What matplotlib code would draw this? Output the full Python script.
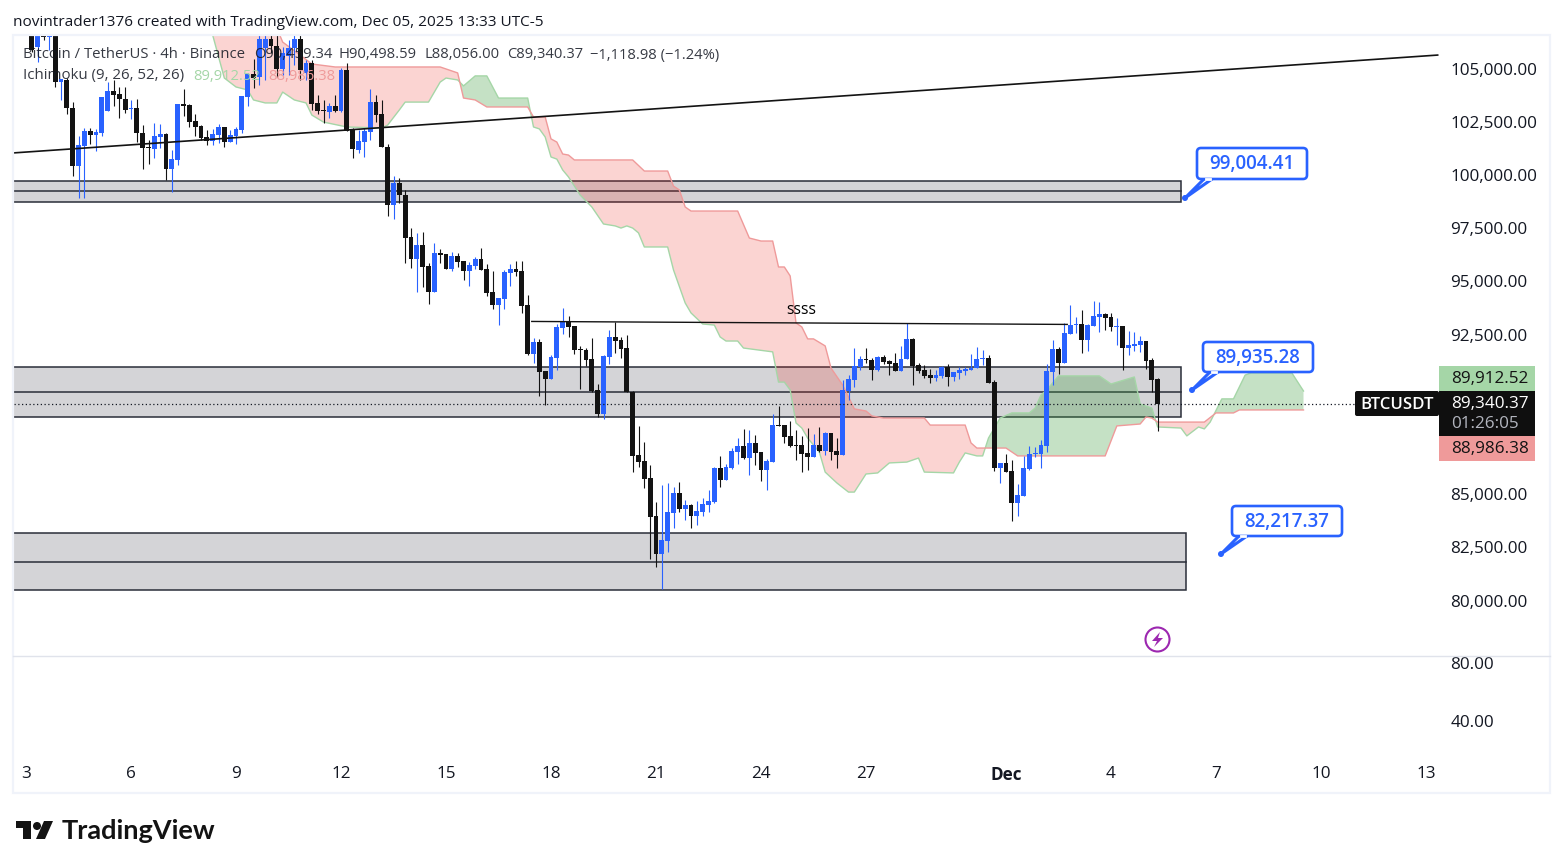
import matplotlib
matplotlib.use('Agg')
import matplotlib.pyplot as plt
import matplotlib.transforms as mtrans
import numpy as np
from matplotlib.patches import Rectangle, FancyBboxPatch, Polygon, Circle

plt.rcParams['font.family'] = ['Open Sans', 'DejaVu Sans']

W, H = 1563, 868

# candles, 4h bars, bar 0 = Nov 3 00:00
first_bar = 1
opens = [107000,105970,106530,106440,106680,104320,104420,103100,100380,101320,
102020,101830,101930,102960,103900,103760,103530,103050,103100,101930,
101270,101170,101740,101880,100240,100660,103290,103240,102490,102260,
101740,101550,101830,102210,101500,101790,102070,103620,104700,104560,
105920,106350,106020,104940,105550,105920,106350,104750,105220,103340,
103010,102920,103200,102960,104890,102070,101130,101500,101970,103380,
102820,101270,98540,99580,99010,97040,96000,96660,95680,94450,
96290,96240,95540,96150,95910,95440,95680,96000,95540,94450,
93840,94120,95350,95540,95440,93840,91540,92100,90740,90370,
91350,92760,93090,92860,91780,91730,91310,89850,88720,91400,
92340,92200,91820,89750,86790,86510,85710,83930,82140,82750,
84070,85010,84260,84440,83930,84120,84440,84580,86180,85620,
86180,86930,87220,86650,87360,86930,86090,86460,88200,88200,
87690,87260,87260,86890,86700,87260,86980,87830,86980,86790,
89800,90320,90930,91310,91260,90790,91400,91210,91120,90740,
91310,92250,91020,90790,90550,90410,90510,90930,90460,90650,
90740,90790,90880,91310,91350,90220,86180,86420,86040,84540,
84870,86140,86840,86840,87220,90690,91780,91120,92480,92900,
92950,92200,92860,93280,93420,93280,92810,92860,91820,91920,
91960,92150,91260,90370]
highs = [107240,107000,106770,106680,106860,104460,104510,103380,101790,102160,
102160,102120,103620,104320,104420,104090,104090,103480,103530,102300,
101600,102400,102350,101930,101130,103290,103990,103290,102820,102300,
102070,102120,102350,102210,102070,102210,103670,104750,105410,106580,
106530,106530,106530,105970,106300,106580,106530,105360,105360,103710,
103480,103340,103710,104980,105220,102160,102070,102160,103990,103710,
103480,101410,99910,99810,99250,97460,97230,97280,95820,96760,
96480,96240,96330,96290,95910,95860,96100,96520,95770,95440,
94170,95490,95770,95910,95910,94310,92290,92250,90740,91490,
92950,93700,93330,92860,91920,91820,92290,90130,91490,92670,
93040,92340,92430,89800,88160,87410,86320,84590,85380,85480,
85290,85520,84680,84490,84630,84770,85150,86230,86750,86370,
87120,87590,88020,87970,87730,86930,86610,88720,89100,88200,
88390,87970,87690,88060,87780,88110,87880,87830,87590,90320,
90550,91820,91450,91820,91350,91450,91490,91260,91590,91920,
93000,92290,91120,91020,90840,90790,90980,91070,90690,90930,
90930,91540,91870,91730,91490,90320,86420,86840,86560,85430,
86750,87220,87170,87500,91070,92200,91870,93000,93840,93280,
93610,92950,94030,93990,93470,93470,93230,92860,92620,92570,
92390,92150,91350,90400]
lows = [105740,105260,106300,105830,104090,103480,102820,99910,98870,98870,
101410,101080,101790,102960,103200,102630,102870,102580,101500,100240,
100470,100750,101220,99720,99150,100420,102730,102210,101790,101600,
101360,101360,101460,101270,101500,101410,101930,103200,104040,104180,
104420,105690,104560,104650,104650,105120,104420,104420,103010,102820,
102400,102630,102920,102920,102020,100750,100990,100800,101600,102440,
101270,98030,97880,98640,95820,95580,94450,94690,93890,94450,
95820,95540,95440,95630,95020,94740,95540,95490,94270,93660,
92900,93660,94740,95210,93470,91490,91120,89570,89140,90370,
90790,92480,92340,91540,89900,90980,89750,88580,88490,91070,
91590,91350,89750,86000,86230,85240,81900,81530,80500,82230,
83360,84110,83740,83360,83500,83930,84110,84540,85290,85620,
86140,86370,86610,85850,86320,85570,85150,86460,88160,87360,
87170,86560,86000,86090,86700,86930,86790,86560,86180,86790,
89380,90000,90790,91120,90320,90740,91070,90550,90740,90740,
91310,90080,90650,90410,90180,90270,90410,90040,90270,90370,
90550,90790,90880,91020,90180,86040,85480,86000,83690,83930,
84870,86090,86700,86180,86940,90080,90600,91120,92480,92530,
91590,91680,92860,92570,92670,92620,91960,90790,91490,91680,
91640,90830,89750,87920]
closes = [105830,106770,106440,106530,104320,104460,103100,100380,101360,102020,
101830,101970,103620,103900,103710,103530,103010,103100,101930,101220,
101220,101790,101880,100240,100710,103290,103200,102440,102210,101690,
101550,101880,102210,101500,101830,102120,103670,104700,104510,106350,
106350,106020,104940,105690,105920,106350,104890,105220,103290,102960,
102960,103200,102960,104890,102020,101170,101550,102020,103380,102770,
101270,98540,99580,99010,96990,96000,96660,95630,94450,96290,
96190,95540,96150,95860,95440,95720,96000,95490,94410,93840,
94170,95390,95540,95390,93800,91540,92100,90690,90370,91400,
92810,93090,92810,91730,91730,91260,89800,88720,91450,92340,
92150,91780,89750,86750,86460,85660,83880,82140,82800,84110,
85010,84260,84440,83930,84160,84490,84630,86180,85620,86230,
86980,87220,86650,87360,86890,86090,86510,88200,88160,87640,
87220,87220,86840,86700,87260,86980,87830,86930,86790,89850,
90370,90980,91310,91260,90790,91400,91160,91070,90740,91310,
92250,90980,90740,90510,90410,90550,90930,90460,90690,90790,
90840,90880,91310,91350,90180,86180,86420,86000,84540,84910,
86180,86840,86890,87260,90740,91780,91120,92530,92900,92950,
92200,92900,93330,93420,93230,92810,92860,91820,91960,92010,
92150,91210,90320,89200]

# ichimoku cloud edges, read at the bars where they bend
span_a_bars = [31,32,34,36,38,39,41,43,44,46,48,49,51,55,61,62,64,65,69,71,72,74,75,77,79,81,86,87,88,89,
90,91,92,93,95,97,99,101,102,103,104,105,106,110,111,113,114,116,118,119,120,122,123,128,129,130,131,132,133,134,
136,137,139,141,142,144,146,148,151,153,154,159,160,161,163,164,165,167,169,172,173,174,175,177,184,186,190,191,193,194,
198,199,201,202,203,205,207,209,210,217,219]
span_a = [107240,106530,104510,104090,103950,103480,103340,103340,103850,103480,103340,102770,102440,102210,102160,102300,103010,103380,103380,104320,104510,104420,104140,104610,104610,103570,103570,102210,102120,101740,
100800,100700,100190,99860,99010,98450,97650,97560,97460,97560,97460,97230,96570,96570,95490,93940,93470,92950,92900,92340,92150,92150,91820,91640,90220,90220,89850,88300,88060,87590,
86930,85990,85480,85050,85050,85900,85950,86420,86460,86650,85990,85950,86460,86890,86750,86750,87590,88530,88770,88770,89000,89610,89850,90510,90510,90130,90460,89190,89000,88110,
88060,87690,88110,88020,88340,89430,89430,90550,90650,90650,89800]
span_b_bars = [31,43,44,47,49,53,71,74,75,77,79,86,87,89,90,91,92,93,94,104,106,110,111,112,113,114,122,124,126,128,
129,130,131,132,133,134,135,137,138,140,142,144,145,147,154,155,161,162,163,168,170,185,187,191,192,193,194,202,204,207,208,219]
span_b = [107240,106860,106200,105590,105170,105030,105030,104750,103570,103480,103150,103150,102680,102680,101650,101500,100940,100890,100660,100660,100140,100140,99430,99250,98450,98260,98260,96990,96850,96850,
95630,95630,95210,93000,92810,92250,92250,91920,90880,90080,88960,88860,88630,88530,88530,88200,88200,87360,87120,87120,86750,86750,88160,88250,88580,88530,88340,88340,88770,88770,88910,88910]

# drawings: (right bar, top, mid, bottom)
zone_right = [198, 198, 198.9]
zone_top = [99690, 90930, 83130]
zone_mid = [99180, 89750, 81760]
zone_bottom = [98700, 88580, 80450]
trend_bars = [-2.2, 242]
trend_prices = [100990, 105590]
neck_bars = [86.7, 178.5]
neck_prices = [93070, 92930]

price_ticks = [80000, 82500, 85000, 92500, 95000, 97500, 100000, 102500, 105000]
rsi_ticks = [40, 80]
date_bars = [0, 18, 36, 54, 72, 90, 108, 126, 144, 168, 186, 204, 222, 240]
date_labels = ['3', '6', '9', '12', '15', '18', '21', '24', '27', 'Dec', '4', '7', '10', '13']

callout_labels = ['99,004.41', '89,935.28', '82,217.37']

BLUE = '#2962ff'
DARK = '#131313'
TEXT = '#131722'

fig = plt.figure(figsize=(W / 100, H / 100), dpi=100)
down_1px = mtrans.ScaledTranslation(0, -1 / 100, fig.dpi_scale_trans)

ax = fig.add_axes([13 / W, 1 - 656 / H, 1427 / W, 621 / H])
ax.set_xlim(-2.23, 242.4)
ax.set_ylim(77346, 106533)

# zones
for r, t, m, b in zip(zone_right, zone_top, zone_mid, zone_bottom):
    ax.add_patch(Rectangle((-5, b), r + 5, t - b, fc='#d4d4d7', ec='#2a2e39', lw=1.1, zorder=1))
    ax.plot([-5, r], [m, m], color='#2a2e39', lw=1.1, zorder=1.1)

# cloud
grid = np.array(sorted(set(span_a_bars) | set(span_b_bars)), dtype=float)
a = np.interp(grid, span_a_bars, span_a)
b = np.interp(grid, span_b_bars, span_b)
ax.fill_between(grid, a, b, where=a >= b, interpolate=True, color='#419e41', alpha=0.3, lw=0, zorder=2)
ax.fill_between(grid, a, b, where=a <= b, interpolate=True, color='#ef2a20', alpha=0.2, lw=0, zorder=2)
ax.plot(span_a_bars, span_a, color='#a5d6a7', lw=1.0, zorder=2.5)
ax.plot(span_b_bars, span_b, color='#ef9a9a', lw=1.0, zorder=2.5)

# candles
bars = np.arange(first_bar, first_bar + len(opens))
op = np.array(opens)
cl = np.array(closes)
colors = [BLUE if c >= o else DARK for o, c in zip(opens, closes)]
ax.vlines(bars, lows, highs, colors=colors, lw=0.8, zorder=4)
ax.bar(bars, np.abs(cl - op), bottom=np.minimum(op, cl), width=0.84, color=colors, lw=0, zorder=4.1)

# last price line
ax.plot([-5, (1355 - 26) / 5.833], [closes[-1], closes[-1]], color='#131722', lw=0.9, ls=(0, (1, 2)), zorder=4.5)

ax.plot(trend_bars, trend_prices, color=DARK, lw=1.2, zorder=5)
ax.plot(neck_bars, neck_prices, color=DARK, lw=1.0, zorder=5)

ax.yaxis.tick_right()
ax.set_yticks(price_ticks)
ax.set_yticklabels([f'{p:,.2f}' for p in price_ticks], fontsize=12.3, color=TEXT)
ax.tick_params(axis='y', length=0, pad=7.5)
ax.set_xticks([])
for s in ax.spines.values():
    s.set_visible(False)

# lower pane, indicator hidden
ax2 = fig.add_axes([13 / W, 1 - 760 / H, 1427 / W, 104 / H])
ax2.set_xlim(-2.23, 242.4)
ax2.set_ylim(12.4, 84.1)
ax2.yaxis.tick_right()
ax2.set_yticks(rsi_ticks)
ax2.set_yticklabels([f'{v:.2f}' for v in rsi_ticks], fontsize=12.3, color=TEXT)
ax2.set_xticks(date_bars)
ax2.set_xticklabels(date_labels, fontsize=12.3, color=TEXT)
ax2.get_xticklabels()[9].set_fontweight('bold')
ax2.tick_params(axis='y', length=0, pad=7.5)
ax2.tick_params(axis='x', length=0, pad=4.2)
for s in ax2.spines.values():
    s.set_visible(False)
for lab in list(ax.get_yticklabels()) + list(ax2.get_yticklabels()):
    lab.set_transform(lab.get_transform() + down_1px)

# everything that is chrome goes on a pixel overlay
ov = fig.add_axes([0, 0, 1, 1], zorder=10)
ov.set_xlim(0, W)
ov.set_ylim(H, 0)
ov.axis('off')
ov.patch.set_alpha(0)

ov.add_patch(Rectangle((13, 35), 1537, 758, fc='none', ec='#f0f3fa', lw=1.6))
ov.plot([13, 1550], [656, 656], color='#e0e3eb', lw=1.0)

ov.text(13, 22, 'novintrader1376 created with TradingView.com, Dec 05, 2025 13:33 UTC-5',
        fontsize=11.1, color=TEXT, va='center')

legend_y = 55
ov.text(23, legend_y, 'Bitcoin / TetherUS · 4h · Binance', fontsize=10.7, color=TEXT, va='center', alpha=0.85)
ov.text(254, legend_y, 'O90,459.34', fontsize=10.6, color=TEXT, va='center', alpha=0.85)
ov.text(339, legend_y, 'H90,498.59', fontsize=10.6, color=TEXT, va='center', alpha=0.85)
ov.text(424, legend_y, 'L88,056.00', fontsize=10.6, color=TEXT, va='center', alpha=0.85)
ov.text(507, legend_y, 'C89,340.37', fontsize=10.6, color=TEXT, va='center', alpha=0.85)
ov.text(590, legend_y, '−1,118.98 (−1.24%)', fontsize=10.6, color=TEXT, va='center', alpha=0.85)
ov.text(23, 76, 'Ichimoku (9, 26, 52, 26)', fontsize=10.8, color=TEXT, va='center', alpha=0.85)
ov.text(193, 76, '89,912.52', fontsize=10.6, color='#a5d6a7', va='center')
ov.text(268, 76, '88,986.38', fontsize=10.6, color='#ef9a9a', va='center')

ov.text(801, 310, 'ssss', fontsize=11.3, color='#000000', ha='center', va='center')


def callout(x0, y0, x1, y1, dot_x, dot_y, label):
    ov.add_patch(Polygon([(x0 + 7, y1), (dot_x, dot_y), (x0 + 15, y1)], fc='white', ec=BLUE, lw=2.2, joinstyle='round', zorder=6))
    ov.add_patch(FancyBboxPatch((x0 + 3, y0 + 3), x1 - x0 - 6, y1 - y0 - 6, boxstyle='round,pad=3,rounding_size=4',
                                fc='white', ec=BLUE, lw=1.9, zorder=7))
    ov.plot([x0 + 9, x0 + 13], [y1, y1], color='white', lw=2, zorder=8)
    ov.add_patch(Circle((dot_x, dot_y), 3, fc=BLUE, ec='none', zorder=8))
    ov.text((x0 + x1) / 2, (y0 + y1) / 2 + 0.5, label, fontsize=13.5, color=BLUE, ha='center', va='center',
            fontweight='semibold', zorder=9)


callout(1197, 148, 1307, 179, 1185, 198, callout_labels[0])
callout(1203, 342, 1313, 372, 1192, 390, callout_labels[1])
callout(1232, 506, 1342, 536, 1221, 554, callout_labels[2])

# price scale tags
ov.add_patch(Rectangle((1439, 366), 96, 25, fc='#a5d6a7', ec='none'))
ov.text(1451, 379, '89,912.52', fontsize=12.3, color=DARK, va='center')
ov.add_patch(Rectangle((1439, 391), 96, 45, fc='#0f0f0f', ec='none'))
ov.text(1451, 404, '89,340.37', fontsize=12.3, color='white', va='center')
ov.text(1451, 424, '01:26:05', fontsize=12.3, color='#b2b5be', va='center')
ov.add_patch(Rectangle((1439, 436), 96, 25, fc='#ef9a9a', ec='none'))
ov.text(1451, 449, '88,986.38', fontsize=12.3, color=DARK, va='center')
ov.add_patch(FancyBboxPatch((1357, 393), 80, 21, boxstyle='round,pad=2,rounding_size=2', fc='#0f0f0f', ec='none'))
ov.text(1397, 405, 'BTCUSDT', fontsize=12.1, color='white', ha='center', va='center', fontweight='semibold')

# bolt marker
ov.add_patch(Circle((1157.5, 639.5), 12, fc='white', ec='#9c27b0', lw=1.5))
ov.add_patch(Polygon([(1160, 632), (1152, 641), (1157, 641), (1154, 647), (1163, 638), (1158, 638)], fc='#9c27b0', ec='none'))

# logo
ov.add_patch(Polygon([(16, 821), (31, 821), (31, 839), (23, 839), (23, 828), (16, 828)], fc=DARK, ec='none'))
ov.add_patch(Circle((37, 826), 4, fc=DARK, ec='none'))
ov.add_patch(Polygon([(36, 839), (45, 839), (53, 821), (44, 821)], fc=DARK, ec='none'))
ov.text(62, 831, 'TradingView', fontsize=19.5, color=DARK, va='center', family='Lato', fontweight='bold')

fig.savefig('out.png', dpi=100, facecolor='white')
